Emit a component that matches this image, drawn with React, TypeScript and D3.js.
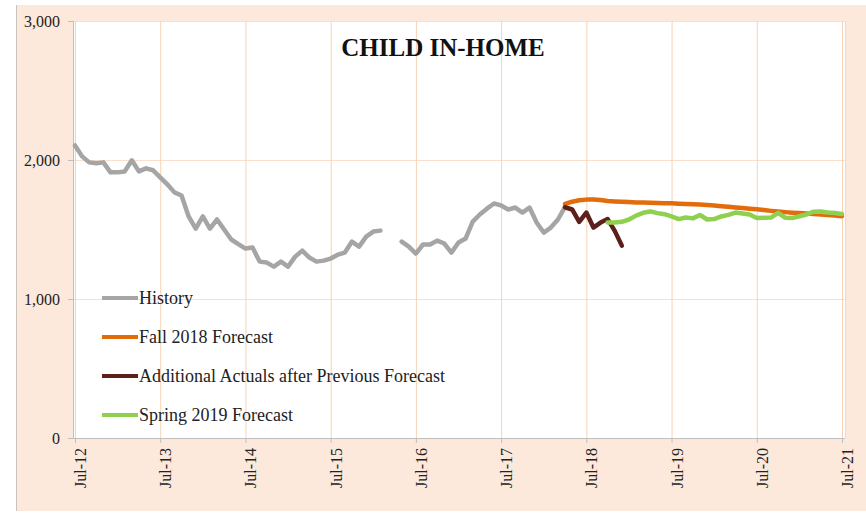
import React from "react";
import * as d3 from "d3";

// Month index 0 = Jul-2012
const tickLabels = ["Jul-12", "Jul-13", "Jul-14", "Jul-15", "Jul-16", "Jul-17", "Jul-18", "Jul-19", "Jul-20", "Jul-21"];
const yTicks = [0, 1000, 2000, 3000];

const historyAStart = 0; // Jul-12
const historyA = [
  2105, 2026, 1983, 1976, 1983, 1911, 1911, 1918, 1998, 1918, 1940, 1926, 1875, 1825, 1767, 1745,
  1594, 1507, 1594, 1507, 1572, 1500, 1428, 1395, 1363, 1370, 1269, 1262, 1233, 1269, 1233, 1305,
  1348, 1298, 1269, 1276, 1291, 1319, 1334, 1413, 1377, 1449, 1485, 1492,
];
const historyBStart = 46; // May-16
const historyB = [
  1413, 1377, 1327, 1392, 1392, 1420, 1399, 1334, 1406, 1435, 1557, 1608, 1650, 1687, 1673, 1644,
  1658, 1622, 1658, 1550, 1478, 1514, 1572, 1662,
];
const fall2018Start = 69; // Apr-18
const fall2018 = [
  1685, 1700, 1710, 1715, 1716, 1712, 1705, 1702, 1700, 1697, 1695, 1694, 1692, 1690, 1689, 1688,
  1686, 1684, 1681, 1679, 1676, 1672, 1668, 1664, 1659, 1654, 1649, 1645, 1640, 1634, 1629, 1625,
  1621, 1618, 1615, 1612, 1608, 1604, 1600, 1596,
];
const actualsStart = 69; // Apr-18
const actuals = [1660, 1644, 1555, 1622, 1514, 1550, 1575, 1490, 1384];
const spring2019Start = 75; // Oct-18
const spring2019 = [
  1550, 1550, 1555, 1572, 1600, 1620, 1630, 1618, 1610, 1595, 1575, 1586, 1580, 1605, 1572, 1575,
  1594, 1605, 1622, 1615, 1608, 1582, 1584, 1586, 1620, 1585, 1582, 1595, 1608, 1628, 1630, 1622,
  1618, 1612,
];

const legendItems = [
  { label: "History", color: "#a5a5a5" },
  { label: "Fall 2018 Forecast", color: "#e36c0a" },
  { label: "Additional Actuals after Previous Forecast", color: "#5c1f1c" },
  { label: "Spring 2019 Forecast", color: "#8fd14f" },
];

const FONT = "'Liberation Serif', 'Times New Roman', serif";

export default function App() {
  const W = 866;
  const H = 513;
  const plotL = 73;
  const plotR = 845;
  const plotT = 21;
  const plotB = 438;

  const x = d3.scaleLinear().domain([0, 108]).range([75, 842]);
  const y = d3.scaleLinear().domain([0, 3000]).range([plotB, plotT]);

  const line = d3
    .line<[number, number]>()
    .x((d) => x(d[0]))
    .y((d) => y(d[1]));

  const toPts = (start: number, vals: number[]) =>
    vals.map((v, i) => [start + i, v] as [number, number]);

  const series = [
    { pts: toPts(historyAStart, historyA), color: legendItems[0].color },
    { pts: toPts(historyBStart, historyB), color: legendItems[0].color },
    { pts: toPts(fall2018Start, fall2018), color: legendItems[1].color },
    { pts: toPts(actualsStart, actuals), color: legendItems[2].color },
    { pts: toPts(spring2019Start, spring2019), color: legendItems[3].color },
  ];

  const gridColor = "#f8d2b4";

  return (
    <svg width={W} height={H} style={{ position: "absolute", left: 0, top: 0 }}>
      <rect x={16} y={5} width={W - 16} height={506} fill="#fce9db" />
      <line x1={16.5} y1={5} x2={16.5} y2={511} stroke="#c9c3bf" strokeWidth={1} />
      <rect x={plotL} y={plotT} width={plotR - plotL} height={plotB - plotT} fill="#ffffff" />

      {/* horizontal gridlines */}
      {yTicks.slice(1).map((t) => (
        <line key={"hg" + t} x1={plotL} x2={plotR} y1={y(t) + 0.5} y2={y(t) + 0.5} stroke="#fae0cc" strokeWidth={1} />
      ))}
      {/* vertical gridlines */}
      {tickLabels.map((lab, i) => (
        <line key={"vg" + lab} x1={x(i * 12) + 0.5} x2={x(i * 12) + 0.5} y1={plotT} y2={plotB} stroke={gridColor} strokeWidth={1} />
      ))}
      <line x1={plotR + 0.5} x2={plotR + 0.5} y1={plotT} y2={plotB} stroke="#eadad0" strokeWidth={1} />

      {/* axes */}
      <line x1={plotL + 0.5} x2={plotL + 0.5} y1={plotT} y2={plotB} stroke="#bfbfbf" strokeWidth={1} />
      <line x1={68} x2={plotR} y1={plotB + 0.5} y2={plotB + 0.5} stroke="#bfbfbf" strokeWidth={1} />
      {yTicks.map((t) => (
        <g key={"yt" + t}>
          <line x1={68} x2={plotL} y1={y(t) + 0.5} y2={y(t) + 0.5} stroke="#bfbfbf" />
          <text x={60} y={y(t)} dy="0.35em" textAnchor="end" fontFamily={FONT} fontSize={16} fill="#222">
            {d3.format(",")(t)}
          </text>
        </g>
      ))}
      {tickLabels.map((lab, i) => (
        <g key={"xt" + lab}>
          <line x1={x(i * 12) + 0.5} x2={x(i * 12) + 0.5} y1={plotB} y2={plotB + 5} stroke="#bfbfbf" />
          <text
            transform={`translate(${x(i * 12)},${448}) rotate(-90)`}
            dy={11}
            textAnchor="end"
            fontFamily={FONT}
            fontSize={16}
            fill="#222"
          >
            {lab}
          </text>
        </g>
      ))}

      {/* title */}
      <text x={443} y={56} textAnchor="middle" fontFamily={FONT} fontSize={25} fontWeight="bold" fill="#111">
        CHILD IN-HOME
      </text>

      {/* series */}
      {series.map((s, i) => (
        <path
          key={"s" + i}
          d={line(s.pts) || ""}
          fill="none"
          stroke={s.color}
          strokeWidth={4.5}
          strokeLinejoin="round"
          strokeLinecap="round"
        />
      ))}

      {/* legend */}
      {legendItems.map((it, i) => {
        const cy = 298 + i * 39;
        return (
          <g key={"lg" + i}>
            <line x1={102} x2={138} y1={cy} y2={cy} stroke={it.color} strokeWidth={4} />
            <text x={139} y={cy} dy="0.33em" fontFamily={FONT} fontSize={18} fill="#222">
              {it.label}
            </text>
          </g>
        );
      })}
    </svg>
  );
}
